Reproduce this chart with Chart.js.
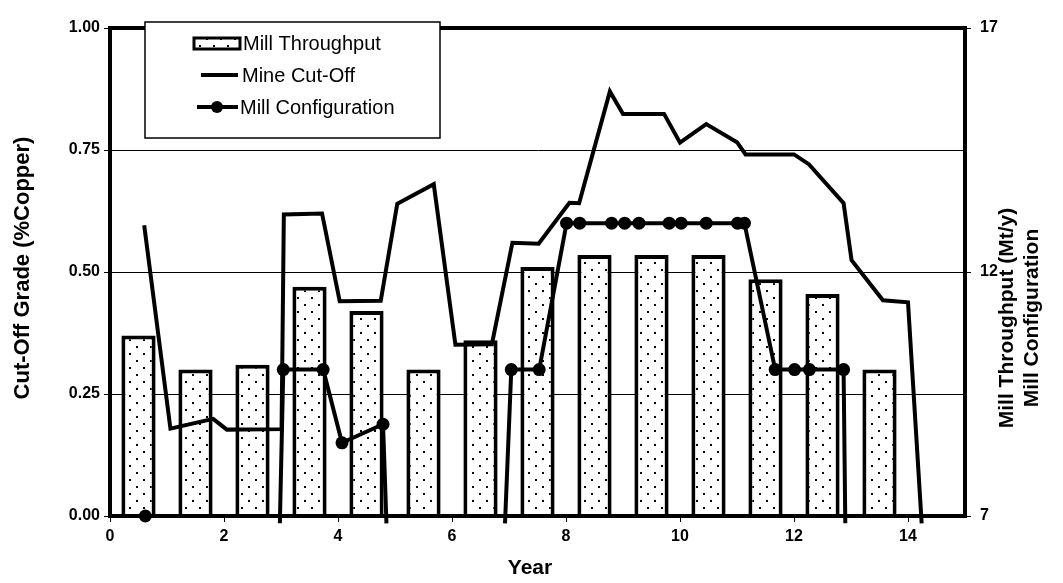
<!DOCTYPE html>
<html>
<head>
<meta charset="utf-8">
<script src="https://cdn.jsdelivr.net/npm/chart.js@4.4.0/dist/chart.umd.min.js"></script>
<style>
  html, body { margin: 0; padding: 0; background: #fff; }
  #wrap { width: 1063px; height: 583px; }
</style>
</head>
<body>
<div id="wrap"><canvas id="chart" width="1063" height="583"></canvas></div>
<script>
// Mill throughput bars (right axis, Mt/y), one per year
const barYears = [0.5, 1.5, 2.5, 3.5, 4.5, 5.5, 6.5, 7.5, 8.5, 9.5, 10.5, 11.5, 12.5, 13.5];
const throughput = [10.7, 10.0, 10.1, 11.7, 11.2, 10.0, 10.6, 12.1, 12.35, 12.35, 12.35, 11.85, 11.55, 10.0];

// Mine cut-off grade (left axis, %Cu)
const cutoffYears = [0.60, 1.06, 1.81, 2.05, 3.01, 3.05, 3.72, 4.03, 4.75, 5.04, 5.68, 6.06, 6.70, 7.06, 7.52,
  8.06, 8.23, 8.77, 9.00, 9.72, 10.00, 10.46, 11.00, 11.15, 12.00, 12.26, 12.87, 13.01, 13.56, 14.00, 14.24];
const cutoffGrade = [0.596, 0.179, 0.199, 0.177, 0.178, 0.618, 0.620, 0.440, 0.441, 0.640, 0.680, 0.351, 0.352, 0.560, 0.558,
  0.642, 0.641, 0.870, 0.824, 0.824, 0.765, 0.803, 0.766, 0.741, 0.741, 0.721, 0.641, 0.524, 0.442, 0.438, -0.015];

// Mill configuration (right axis); null = break in the line
const configYears = [0.62, 1.5, 2.98, 3.04, 3.74, 4.07, 4.79, 4.85, 5.9, 6.93, 7.04, 7.53, 8.01, 8.24, 8.80,
  9.03, 9.28, 9.81, 10.02, 10.46, 11.01, 11.13, 11.67, 12.01, 12.27, 12.87, 12.90];
const configValues = [7, null, 6.85, 10, 10, 8.5, 8.88, 6.85, null, 6.85, 10, 10, 13, 13, 13,
  13, 13, 13, 13, 13, 13, 13, 10, 10, 10, 10, 6.85];

// Axis ticks
const leftTicks = [0, 0.25, 0.5, 0.75, 1];
const rightTicks = [7, 12, 17];
const yearTicks = [0, 2, 4, 6, 8, 10, 12, 14];

const FONT = "'Liberation Sans', Arial, Helvetica, sans-serif";
Chart.defaults.font.family = FONT;
Chart.defaults.color = '#000';

const canvas = document.getElementById('chart');
const ctx = canvas.getContext('2d');

// white fill with a staggered dot pattern
function makeDots() {
  const tile = document.createElement('canvas');
  tile.width = 14;
  tile.height = 14;
  const g = tile.getContext('2d');
  g.fillStyle = '#fff';
  g.fillRect(0, 0, 14, 14);
  g.fillStyle = '#000';
  g.fillRect(3, 3, 2, 2);
  g.fillRect(10, 10, 2, 2);
  return ctx.createPattern(tile, 'repeat');
}
const dots = makeDots();

const pairs = (xs, ys) => xs.map((x, i) => ({ x, y: ys[i] }));

// frame, legend and axis titles
const decorations = {
  id: 'decorations',
  afterDatasetsDraw(chart) {
    const { ctx, chartArea: a } = chart;
    ctx.save();
    ctx.strokeStyle = '#000';
    ctx.lineWidth = 4;
    ctx.strokeRect(a.left, a.top, a.right - a.left, a.bottom - a.top);
    ctx.restore();
  },
  afterDraw(chart) {
    const c = chart.ctx;
    c.save();
    // legend box
    c.fillStyle = '#fff';
    c.fillRect(145, 22, 295, 116);
    c.strokeStyle = '#000';
    c.lineWidth = 1.5;
    c.strokeRect(145, 22, 295, 116);

    c.fillStyle = dots;
    c.fillRect(194, 38, 46, 11);
    c.lineWidth = 3;
    c.strokeRect(194, 38, 46, 11);

    c.lineWidth = 4;
    c.beginPath();
    c.moveTo(201, 75);
    c.lineTo(238, 75);
    c.stroke();

    c.beginPath();
    c.moveTo(197, 107);
    c.lineTo(238, 107);
    c.stroke();
    c.beginPath();
    c.arc(217, 107, 6, 0, Math.PI * 2);
    c.fillStyle = '#000';
    c.fill();

    c.font = '20px ' + FONT;
    c.textBaseline = 'middle';
    c.textAlign = 'left';
    c.fillText('Mill Throughput', 243, 44);
    c.fillText('Mine Cut-Off', 242, 76);
    c.fillText('Mill Configuration', 240, 108);

    // axis titles
    c.font = 'bold 21px ' + FONT;
    c.textAlign = 'center';
    c.fillText('Year', 530, 568);

    c.save();
    c.translate(23, 268);
    c.rotate(-Math.PI / 2);
    c.font = 'bold 22px ' + FONT;
    c.fillText('Cut-Off Grade (%Copper)', 0, 0);
    c.restore();

    c.save();
    c.translate(1007, 318);
    c.rotate(-Math.PI / 2);
    c.fillText('Mill Throughput (Mt/y)', 0, 0);
    c.fillText('Mill Configuration', 0, 25);
    c.restore();
    c.restore();
  }
};

const tickFont = { size: 16, weight: 'bold' };

new Chart(canvas, {
  type: 'bar',
  data: {
    datasets: [
      {
        type: 'line',
        label: 'Mill Configuration',
        data: pairs(configYears, configValues),
        yAxisID: 'y1',
        borderColor: '#000',
        backgroundColor: '#000',
        borderWidth: 4,
        pointRadius: c => (c.raw && c.raw.y >= 7 ? 6.5 : 0),
        pointBorderWidth: 0,
        spanGaps: false,
        tension: 0,
        clip: { left: 8, top: 8, right: 8, bottom: 12 },
        order: 1
      },
      {
        type: 'line',
        label: 'Mine Cut-Off',
        data: pairs(cutoffYears, cutoffGrade),
        yAxisID: 'y',
        borderColor: '#000',
        borderWidth: 4,
        pointRadius: 0,
        tension: 0,
        clip: { left: 8, top: 8, right: 8, bottom: 12 },
        order: 2
      },
      {
        type: 'bar',
        label: 'Mill Throughput',
        data: pairs(barYears, throughput),
        yAxisID: 'y1',
        backgroundColor: dots,
        borderColor: '#000',
        borderWidth: 4,
        borderSkipped: false,
        barPercentage: 0.6,
        categoryPercentage: 1,
        order: 3
      }
    ]
  },
  options: {
    responsive: false,
    animation: false,
    layout: { padding: { top: 28, left: 0, right: 0, bottom: 0 } },
    plugins: {
      legend: { display: false },
      tooltip: { enabled: false }
    },
    scales: {
      x: {
        type: 'linear',
        position: 'bottom',
        offset: false,
        min: 0,
        max: 15,
        afterBuildTicks: s => { s.ticks = yearTicks.map(v => ({ value: v })); },
        afterFit: s => { s.height = 67; },
        ticks: { font: tickFont, padding: 5, maxRotation: 0 },
        grid: { drawOnChartArea: false, offset: false, tickLength: 6, color: '#000' },
        border: { width: 4, color: '#000' }
      },
      y: {
        type: 'linear',
        position: 'left',
        min: 0,
        max: 1,
        afterBuildTicks: s => { s.ticks = leftTicks.map(v => ({ value: v })); },
        afterFit: s => { s.width = 110; },
        ticks: { font: tickFont, padding: 4, callback: v => v.toFixed(2) },
        grid: { color: '#000', lineWidth: 1, tickLength: 6 },
        border: { width: 4, color: '#000' }
      },
      y1: {
        type: 'linear',
        position: 'right',
        min: 7,
        max: 17,
        afterBuildTicks: s => { s.ticks = rightTicks.map(v => ({ value: v })); },
        afterFit: s => { s.width = 98; },
        ticks: { font: tickFont, padding: 9 },
        grid: { drawOnChartArea: false, tickLength: 6, color: '#000' },
        border: { width: 4, color: '#000' }
      }
    }
  },
  plugins: [decorations]
});
</script>
</body>
</html>
